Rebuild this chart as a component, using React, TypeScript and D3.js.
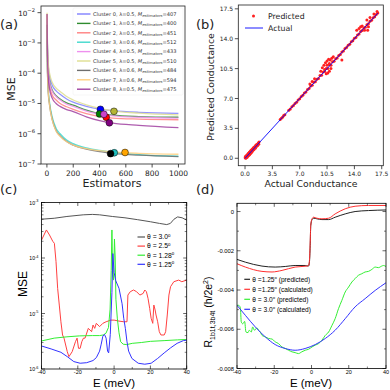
import React from 'react';
import * as d3 from 'd3';

// ---------- panel (a) data ----------
const estGrid = [1, 3, 6, 10, 20, 40, 70, 100, 150, 200, 300, 400, 500, 700, 1000];
const clusterNames = ['Cluster 0', 'Cluster 1', 'Cluster 2', 'Cluster 3', 'Cluster 4', 'Cluster 5', 'Cluster 6', 'Cluster 7', 'Cluster 8'];
const clusterLambda = ['0.5', '0.5', '0.5', '0.6', '0.5', '0.5', '0.6', '0.6', '0.5'];
const clusterBest = [407, 400, 451, 512, 433, 510, 484, 594, 475];
const clusterBestMse = [6.4e-6, 4.5e-6, 3.5e-6, 2.35e-7, 4.4e-6, 5.5e-6, 2.2e-7, 2.4e-7, 2.3e-6];
const clusterLine = ['#8080ff', '#2e8b2e', '#ff8080', '#40d8cc', '#ee90ee', '#dede90', '#6e6e6e', '#ffd080', '#a040a0'];
const clusterDot = ['#0000ff', '#008000', '#ff0000', '#1fbfbf', '#cc44cc', '#b5b535', '#000000', '#ffa500', '#800080'];
const mse0 = [9e-3, 1.5e-3, 4e-4, 1.8e-4, 8e-5, 4e-5, 2.6e-5, 2e-5, 1.4e-5, 1.1e-5, 8e-6, 6.5e-6, 5.8e-6, 5.1e-6, 4.7e-6];
const mse1 = [8e-3, 1.2e-3, 3e-4, 1.3e-4, 5.5e-5, 2.8e-5, 1.8e-5, 1.4e-5, 1.05e-5, 8.8e-6, 6e-6, 4.6e-6, 4.1e-6, 3.7e-6, 3.5e-6];
const mse2 = [7e-3, 8e-4, 2e-4, 9e-5, 3.8e-5, 1.9e-5, 1.3e-5, 1e-5, 7.8e-6, 6.4e-6, 4.6e-6, 3.7e-6, 3.3e-6, 3.05e-6, 2.9e-6];
const mse3 = [6e-3, 3e-4, 8e-5, 3e-5, 1.1e-5, 3.6e-6, 1.5e-6, 1e-6, 6.2e-7, 4.7e-7, 3.4e-7, 2.8e-7, 2.45e-7, 2.05e-7, 1.8e-7];
const mse4 = [8e-3, 1.1e-3, 2.8e-4, 1.2e-4, 5e-5, 2.6e-5, 1.7e-5, 1.3e-5, 9.5e-6, 8e-6, 5.6e-6, 4.5e-6, 3.9e-6, 3.5e-6, 3.3e-6];
const mse5 = [1e-2, 2e-3, 5e-4, 2.2e-4, 1e-4, 5e-5, 3.2e-5, 2.5e-5, 1.7e-5, 1.3e-5, 9e-6, 6.9e-6, 5.7e-6, 4.8e-6, 4.2e-6];
const mse6 = [4e-3, 2e-4, 6e-5, 2.4e-5, 9e-6, 3e-6, 1.25e-6, 8.5e-7, 5.5e-7, 4.2e-7, 3.1e-7, 2.55e-7, 2.25e-7, 1.95e-7, 1.75e-7];
const mse7 = [9e-3, 2.5e-4, 6.5e-5, 2.5e-5, 9e-6, 2.9e-6, 1.2e-6, 8.2e-7, 5.4e-7, 4.2e-7, 3.2e-7, 2.75e-7, 2.5e-7, 2.25e-7, 2.1e-7];
const mse8 = [9e-3, 8e-4, 1.8e-4, 7.5e-5, 3e-5, 1.5e-5, 1e-5, 8e-6, 6.3e-6, 5.4e-6, 3.6e-6, 2.7e-6, 2.25e-6, 1.9e-6, 1.6e-6];
const mseCurves = [mse0, mse1, mse2, mse3, mse4, mse5, mse6, mse7, mse8];
const estTicks = [0, 200, 400, 600, 800, 1000];
const mseExpTicksA = [-2, -3, -4, -5, -6, -7];

// ---------- panel (b) data: [actual, predicted] ----------
const condPairs: [number, number][] = [
  [0.02, 0.05], [0.05, 0.2], [0.1, 0.0], [0.15, 0.3], [0.2, 0.1], [0.25, 0.35], [0.3, 0.15], [0.35, 0.5],
  [0.4, 0.3], [0.45, 0.6], [0.5, 0.35], [0.55, 0.7], [0.6, 0.45], [0.65, 0.8], [0.7, 0.55], [0.75, 0.9],
  [0.8, 0.65], [0.85, 1.0], [0.9, 0.75], [0.95, 1.1], [1.0, 0.9], [1.05, 1.2], [1.1, 1.0], [1.15, 1.3],
  [1.2, 1.1], [1.3, 1.4], [1.35, 1.2], [1.4, 1.55], [1.5, 1.4], [1.55, 1.65], [1.6, 1.5], [1.7, 1.8],
  [1.75, 1.65], [1.8, 1.9],
  [4.5, 4.55], [4.65, 4.7], [4.8, 4.8], [4.95, 5.0], [5.1, 5.1],
  [5.6, 5.62], [5.8, 5.78], [6.0, 6.03], [6.2, 6.18], [6.4, 6.42], [6.6, 6.57], [6.8, 6.83], [7.0, 6.97],
  [7.2, 7.24], [7.4, 7.37], [7.6, 7.63], [7.8, 7.76], [8.0, 8.05], [8.2, 8.16], [8.4, 8.45], [8.6, 8.55],
  [8.8, 8.9], [9.0, 8.95], [9.2, 9.25], [9.4, 9.35], [9.6, 9.7], [9.8, 9.72], [10.0, 10.1], [10.2, 10.15],
  [10.4, 10.5], [10.6, 10.5], [10.8, 10.95], [11.0, 10.9], [11.2, 11.3], [11.4, 11.35], [11.6, 11.65],
  [11.8, 11.75], [12.0, 12.05], [12.2, 12.15], [12.4, 12.45], [12.6, 12.57], [12.8, 12.85], [13.0, 12.96],
  [13.2, 13.25], [13.4, 13.35], [13.6, 13.65], [13.8, 13.76], [14.0, 14.05], [14.2, 14.15], [14.4, 14.45],
  [14.6, 14.56], [14.8, 14.85], [15.0, 14.95], [15.2, 15.25], [15.4, 15.35], [15.6, 15.65], [15.8, 15.76],
  [16.0, 16.05], [16.2, 16.15], [16.4, 16.45], [16.6, 16.58], [16.8, 16.85], [17.0, 17.02],
  [8.3, 8.7], [8.6, 9.0], [8.9, 9.3], [9.7, 10.2], [9.9, 10.6], [10.1, 10.9], [10.3, 11.2], [10.5, 11.4],
  [10.7, 11.6], [10.9, 11.5], [11.1, 11.7], [10.4, 9.9], [10.6, 10.0], [10.8, 10.2], [11.0, 10.5],
  [10.2, 10.4], [10.5, 10.9], [10.8, 11.1], [11.3, 11.9], [12.4, 11.5], [14.3, 15.0], [14.6, 15.2],
  [15.0, 15.5], [15.3, 15.0], [15.6, 16.2], [15.8, 15.4], [16.0, 16.5], [14.8, 15.4], [16.5, 16.9],
  [16.9, 17.2], [15.7, 15.0],
];
const actualRange = [0, 17];
const condTicks = [0, 3.5, 7, 10.5, 14, 17.5];

// ---------- panel (c) data: [E, MSE] ----------
const mseTheta30: [number, number][] = [
  [-40, 5.0e-4], [-33, 5.2e-4], [-26, 5.6e-4], [-17, 6.0e-4], [-12, 6.1e-4], [-8, 6.0e-4], [-1, 5.6e-4],
  [6, 5.3e-4], [13, 4.9e-4], [20, 4.5e-4], [25, 4.2e-4], [29, 4.0e-4], [31, 4.2e-4], [33, 5.0e-4],
  [35, 5.5e-4], [37.5, 5.3e-4], [39, 5.0e-4], [40, 4.8e-4],
];
const mseTheta25: [number, number][] = [
  [-40, 2.1e-4], [-37.3, 3.2e-4], [-35.6, 2.6e-4], [-33.8, 2.0e-4], [-32.9, 1.84e-4], [-32, 8.6e-5],
  [-31.1, 2.84e-5], [-30.2, 1.42e-5], [-29.3, 7.1e-6], [-28.4, 4.1e-6], [-27.6, 3.6e-6], [-25.8, 2.05e-6],
  [-24.9, 1.67e-6], [-23.1, 2.05e-6], [-21.3, 3.1e-6], [-20.4, 3.6e-6], [-19.6, 2.36e-6], [-18.7, 2.36e-6],
  [-17.8, 3.1e-6], [-16.9, 3.6e-6], [-16, 3.6e-6], [-14.2, 5.4e-6], [-12.4, 4.7e-6], [-11.6, 6.2e-6],
  [-10.7, 5.4e-6], [-9.8, 6.65e-6], [-8, 5.8e-6], [-6.2, 6.65e-6], [-4.4, 7.1e-6], [-1.8, 7.6e-6],
  [0, 7.6e-6], [2.7, 7.3e-6], [5.3, 7.1e-6], [7.1, 7.1e-6], [7.6, 2.15e-5], [8.9, 2.47e-5], [10.7, 2.65e-5],
  [12.4, 2.47e-5], [14.2, 2.15e-5], [16, 2.3e-5], [16.9, 2.65e-5], [17.8, 2.47e-5], [18.7, 1.87e-5],
  [19.6, 1.24e-5], [20.4, 8.2e-6], [21.3, 6.65e-6], [21.9, 1.42e-5], [22.6, 1.16e-5], [23.1, 9.4e-6],
  [24, 7.1e-6], [24.9, 4.7e-6], [25.8, 4.1e-6], [27.6, 4.1e-6], [28.4, 4.7e-6], [29.3, 9.4e-6],
  [30.2, 2.15e-5], [31.1, 3.04e-5], [32.9, 3.74e-5], [35.6, 4.0e-5], [37.3, 3.74e-5], [40, 4.0e-5],
];
const mseTheta128: [number, number][] = [
  [-40, 3.2e-6], [-33, 3.6e-6], [-26, 3.8e-6], [-19, 3.95e-6], [-12, 4.0e-6], [-8, 4.0e-6], [-6, 4.1e-6],
  [-4.5, 4.4e-6], [-3.1, 5.6e-6], [-2.2, 1.2e-5], [-1.6, 6e-5], [-1.2, 3.2e-4], [-0.8, 5.0e-5],
  [-0.3, 4.0e-5], [0.2, 2.2e-4], [0.6, 1.0e-4], [1.0, 1.8e-5], [1.8, 8e-6], [2.7, 4.5e-6], [3.6, 3.1e-6],
  [5.0, 2.8e-6], [7, 2.75e-6], [10, 2.9e-6], [15, 3.0e-6], [20, 3.15e-6], [28, 3.25e-6], [35, 3.35e-6],
  [40, 3.4e-6],
];
const mseTheta125: [number, number][] = [
  [-40, 2.6e-6], [-34.7, 2.3e-6], [-29.3, 2.0e-6], [-25.8, 1.67e-6], [-22.2, 1.36e-6], [-18.7, 1.27e-6],
  [-15.1, 1.3e-6], [-11.6, 1.42e-6], [-9.8, 1.6e-6], [-8, 2.1e-6], [-7.1, 2.8e-6], [-6.2, 3.9e-6],
  [-5.3, 4.2e-6], [-4.4, 3.6e-6], [-3.6, 2.1e-6], [-3.0, 1.95e-6], [-2.1, 4.2e-6], [-1.2, 2.4e-5],
  [-0.7, 1.2e-4], [0, 5.5e-5], [0.9, 3.9e-5], [2.7, 2.84e-5], [4.4, 1.5e-5], [5.3, 8.2e-6], [6.2, 5.4e-6],
  [7.1, 3.1e-6], [8, 2.1e-6], [9.8, 1.55e-6], [13.3, 1.27e-6], [16.9, 1.22e-6], [20.4, 1.27e-6],
  [24, 1.55e-6], [27.6, 1.95e-6], [31.1, 2.4e-6], [34.7, 2.9e-6], [38.2, 3.25e-6], [40, 3.3e-6],
];
const mseCurvesC = [mseTheta30, mseTheta25, mseTheta128, mseTheta125];
const thetaLabelsC = ['3.0', '2.5', '1.28', '1.25'];
const thetaColorsC = ['#555555', '#ff4040', '#33ee33', '#3333ff'];
const eTicks = [-40, -20, 0, 20, 40];
const eMinorTicks = [-30, -10, 10, 30];
const mseExpTicksC = [-3, -4, -5, -6];

// ---------- panel (d) data: [E, R in units of 1e-3 h/2e^2] ----------
const rPred125: [number, number][] = [
  [-40, -2.44], [-35.5, -2.58], [-26.6, -2.78], [-19.5, -2.83], [-14.1, -2.8], [-8.8, -2.75],
  [-3.4, -2.75], [-1.6, -2.78], [-1.1, -2.58], [-0.7, -1.73], [-0.4, -0.71], [0.3, -0.41], [1.1, -0.34],
  [2.9, -0.37], [5.6, -0.41], [9.2, -0.41], [12.7, -0.29], [18.1, -0.12], [23.4, 0.0], [30.6, 0.05],
  [40, 0.08],
];
const rCalc125: [number, number][] = [
  [-40, -2.66], [-35.5, -2.83], [-26.6, -3.05], [-21.2, -3.08], [-15.8, -3.0], [-8.8, -2.83],
  [-2.5, -2.78], [-1.6, -2.75], [-1.1, -2.49], [-0.7, -1.56], [-0.4, -0.71], [0.3, -0.37], [1.1, -0.29],
  [2.9, -0.34], [5.6, -0.37], [9.2, -0.34], [12.7, -0.12], [18.1, 0.14], [23.4, 0.27], [30.6, 0.31],
  [40, 0.31],
];
const rPred30: [number, number][] = [
  [-40, -4.78], [-39.1, -4.78], [-38.2, -4.9], [-37.7, -5.63], [-36.9, -5.72], [-35.9, -5.6], [-35.2, -6.14],
  [-34.1, -6.17], [-33.4, -6.05], [-32.3, -6.14], [-31.6, -5.88], [-30.6, -6.05], [-29.3, -5.93],
  [-28.4, -6.05], [-27.5, -6.14], [-26.6, -6.31], [-24.8, -6.39], [-23, -6.47], [-21.2, -6.5],
  [-19.5, -6.64], [-17.7, -6.73], [-15.9, -6.9], [-14.1, -6.98], [-12.3, -7.07], [-10.5, -7.15],
  [-8.8, -7.19], [-7.0, -7.24], [-5.2, -7.15], [-3.4, -7.07], [-1.6, -7.02], [0.3, -6.9], [2.0, -6.81],
  [3.8, -6.73], [5.6, -6.56], [7.4, -6.31], [9.2, -6.14], [11.0, -5.8], [12.7, -5.46], [14.5, -4.95],
  [16.3, -4.53], [18.1, -4.1], [19.9, -3.85], [21.7, -3.59], [23.4, -3.42], [25.2, -3.25], [27.0, -3.17],
  [28.8, -3.08], [30.6, -3.05], [32.4, -2.95], [34.2, -2.83], [35.9, -2.86], [37.7, -2.78], [38.6, -2.75],
  [40, -2.8],
];
const rCalc30: [number, number][] = [
  [-40, -4.78], [-35.5, -5.29], [-30.2, -5.88], [-24.8, -6.39], [-19.5, -6.78], [-14.1, -6.98],
  [-8.8, -7.07], [-3.4, -6.98], [2.0, -6.78], [7.4, -6.47], [12.7, -6.05], [18.1, -5.46], [23.4, -4.86],
  [28.8, -4.44], [34.2, -4.02], [40, -3.63],
];
const rCurves = [rPred125, rCalc125, rPred30, rCalc30];
const rLabels = ['=1.25', '=1.25', '= 3.0', '= 3.0'];
const rKinds = ['(predicted)', '(calculated)', '(predicted)', '(calculated)'];
const rColors = ['#222222', '#ff3030', '#33ee33', '#3333ff'];
const rTicks = [0, -2, -4, -6, -8];
const rMinorTicks = [-1, -3, -5, -7];

const mpl = 'DejaVu Sans, sans-serif';
const grace = 'Liberation Sans, Arial, sans-serif';

function PanelA() {
  const x = d3.scaleLinear().domain([-45, 1050]).range([41, 185]);
  const y = d3.scaleLog().domain([1e-7, Math.pow(10, -1.78)]).range([164, 6]);
  const line = d3.line<number>().x((_, i) => x(estGrid[i])).y((d) => y(d)).curve(d3.curveMonotoneX);
  return (
    <g fontFamily={mpl}>
      <defs>
        <clipPath id="clipA"><rect x={41} y={6} width={144} height={158} /></clipPath>
      </defs>
      <g clipPath="url(#clipA)">
        {mseCurves.map((c, i) => (
          <path key={i} d={line(c) || ''} fill="none" stroke={clusterLine[i]} strokeWidth={1.3} strokeOpacity={0.85} />
        ))}
        {clusterBest.map((b, i) => (
          <circle key={i} cx={x(b)} cy={y(clusterBestMse[i])} r={3.4} fill={clusterDot[i]} stroke="#000" strokeWidth={0.5} />
        ))}
      </g>
      <rect x={41} y={6} width={144} height={158} fill="none" stroke="#222" strokeWidth={0.8} />
      {estTicks.map((t) => (
        <g key={t}>
          <line x1={x(t)} x2={x(t)} y1={164} y2={167.5} stroke="#222" strokeWidth={0.8} />
          <text x={x(t)} y={176} fontSize={7.5} textAnchor="middle" fill="#222">{t}</text>
        </g>
      ))}
      {mseExpTicksA.map((e) => (
        <g key={e}>
          <line x1={37.5} x2={41} y1={y(Math.pow(10, e))} y2={y(Math.pow(10, e))} stroke="#222" strokeWidth={0.8} />
          <text x={35} y={y(Math.pow(10, e)) + 3} fontSize={7.2} textAnchor="end" fill="#222">
            10<tspan dy={-3.3} fontSize={5.2}>{'\u2212' + Math.abs(e)}</tspan>
          </text>
        </g>
      ))}
      <text x={112} y={187} fontSize={11} textAnchor="middle" fill="#222">Estimators</text>
      <text transform="translate(14.5,89) rotate(-90)" fontSize={11} textAnchor="middle" fill="#222">MSE</text>
      <rect x={73} y={8} width={110} height={87} rx={1.5} fill="#fff" fillOpacity={0.8} stroke="#ececec" strokeWidth={0.5} />
      {clusterNames.map((n, i) => {
        const yy = 14 + i * 9.4;
        return (
          <g key={n}>
            <line x1={77} x2={90.5} y1={yy} y2={yy} stroke={clusterLine[i]} strokeWidth={1.4} />
            <text x={93} y={yy + 1.8} fontSize={5.1} fill="#333">
              {n}, λ={clusterLambda[i]}, <tspan fontStyle="italic">M</tspan>
              <tspan dy={1.2} fontSize={3.8} fontStyle="italic">estimators</tspan>
              <tspan dy={-1.2}>={clusterBest[i]}</tspan>
            </text>
          </g>
        );
      })}
    </g>
  );
}

function PanelB() {
  const x = d3.scaleLinear().domain([-0.86, 17.7]).range([238.3, 383.3]);
  const y = d3.scaleLinear().domain([-0.87, 17.95]).range([165.7, 5]);
  return (
    <g fontFamily={mpl}>
      {condPairs.map(([a, p], i) => (
        <circle key={i} cx={x(a)} cy={y(p)} r={1.5} fill="#ff2020" />
      ))}
      <line x1={x(actualRange[0])} y1={y(actualRange[0])} x2={x(actualRange[1])} y2={y(actualRange[1])} stroke="#0000ff" strokeWidth={0.9} />
      <rect x={238.3} y={5} width={145} height={160.7} fill="none" stroke="#222" strokeWidth={0.8} />
      {condTicks.map((t) => (
        <g key={t}>
          <line x1={x(t)} x2={x(t)} y1={165.7} y2={169.2} stroke="#222" strokeWidth={0.8} />
          <text x={x(t)} y={176} fontSize={6} textAnchor="middle" fill="#222">{t.toFixed(1)}</text>
          <line x1={234.8} x2={238.3} y1={y(t)} y2={y(t)} stroke="#222" strokeWidth={0.8} />
          <text x={233} y={y(t) + 2.1} fontSize={6} textAnchor="end" fill="#222">{t.toFixed(1)}</text>
        </g>
      ))}
      <circle cx={253.5} cy={16} r={1.5} fill="#ff2020" />
      <text x={268} y={18.8} fontSize={7.8} fill="#222">Predicted</text>
      <line x1={245} x2={263} y1={28} y2={28} stroke="#0000ff" strokeWidth={0.9} />
      <text x={268} y={30.8} fontSize={7.8} fill="#222">Actual</text>
      <text x={311} y={187} fontSize={9.3} textAnchor="middle" fill="#222">Actual Conductance</text>
      <text transform="translate(214,87) rotate(-90)" fontSize={9.3} textAnchor="middle" fill="#222">Predicted Conductance</text>
    </g>
  );
}

function PanelC() {
  const L = 41.5, R = 186.7, T = 202.5, B = 369;
  const x = d3.scaleLinear().domain([-40, 40]).range([L, R]);
  const y = d3.scaleLog().domain([1e-6, 1e-3]).range([B, T]);
  const line = d3.line<[number, number]>().x((d) => x(d[0])).y((d) => y(d[1]));
  const minors: number[] = [];
  [-6, -5, -4].forEach((e) => [2, 3, 4, 5, 6, 7, 8, 9].forEach((m) => minors.push(m * Math.pow(10, e))));
  return (
    <g fontFamily={grace}>
      <defs>
        <clipPath id="clipC"><rect x={L} y={T} width={R - L} height={B - T} /></clipPath>
      </defs>
      <g clipPath="url(#clipC)">
        {mseCurvesC.map((c, i) => (
          <path key={i} d={line(c) || ''} fill="none" stroke={thetaColorsC[i]} strokeWidth={1} />
        ))}
      </g>
      <rect x={L} y={T} width={R - L} height={B - T} fill="none" stroke="#000" strokeWidth={0.8} />
      {eTicks.map((t) => (
        <g key={t}>
          <line x1={x(t)} x2={x(t)} y1={B} y2={B - 3.5} stroke="#000" strokeWidth={0.6} />
          <line x1={x(t)} x2={x(t)} y1={T} y2={T + 3.5} stroke="#000" strokeWidth={0.6} />
          <text x={x(t)} y={374.2} fontSize={5.5} textAnchor="middle">{t}</text>
        </g>
      ))}
      {eMinorTicks.map((t) => (
        <g key={t}>
          <line x1={x(t)} x2={x(t)} y1={B} y2={B - 2} stroke="#000" strokeWidth={0.5} />
          <line x1={x(t)} x2={x(t)} y1={T} y2={T + 2} stroke="#000" strokeWidth={0.5} />
        </g>
      ))}
      {mseExpTicksC.map((e) => (
        <g key={e}>
          <line x1={L} x2={L + 3.5} y1={y(Math.pow(10, e))} y2={y(Math.pow(10, e))} stroke="#000" strokeWidth={0.6} />
          <line x1={R} x2={R - 3.5} y1={y(Math.pow(10, e))} y2={y(Math.pow(10, e))} stroke="#000" strokeWidth={0.6} />
          <text x={38.5} y={y(Math.pow(10, e)) + 2} fontSize={5.2} textAnchor="end">
            10<tspan dy={-2.5} fontSize={3.8}>{'-' + Math.abs(e)}</tspan>
          </text>
        </g>
      ))}
      {minors.map((m, i) => (
        <g key={i}>
          <line x1={L} x2={L + 2} y1={y(m)} y2={y(m)} stroke="#000" strokeWidth={0.5} />
          <line x1={R} x2={R - 2} y1={y(m)} y2={y(m)} stroke="#000" strokeWidth={0.5} />
        </g>
      ))}
      {thetaLabelsC.map((l, i) => {
        const yy = 237 + i * 9.1;
        return (
          <g key={l}>
            <line x1={137.5} x2={145} y1={yy} y2={yy} stroke={thetaColorsC[i]} strokeWidth={1.2} />
            <text x={147} y={yy + 2.3} fontSize={6.8}>
              θ = {l}<tspan dy={-2.5} fontSize={4.5}>o</tspan>
            </text>
          </g>
        );
      })}
      <text x={114} y={387} fontSize={11.5} textAnchor="middle">E (meV)</text>
      <text transform="translate(27,284) rotate(-90)" fontSize={12} textAnchor="middle">MSE</text>
    </g>
  );
}

function PanelD() {
  const L = 237, R = 386, T = 203.3, B = 368.5;
  const x = d3.scaleLinear().domain([-40, 40]).range([L, R]);
  const y = d3.scaleLinear().domain([-8, 0.42]).range([B, T]);
  const line = d3.line<[number, number]>().x((d) => x(d[0])).y((d) => y(d[1])).curve(d3.curveMonotoneX);
  return (
    <g fontFamily={grace}>
      <defs>
        <clipPath id="clipD"><rect x={L} y={T} width={R - L} height={B - T} /></clipPath>
      </defs>
      <g clipPath="url(#clipD)">
        {rCurves.map((c, i) => (
          <path key={i} d={line(c) || ''} fill="none" stroke={rColors[i]} strokeWidth={1} />
        ))}
      </g>
      <rect x={L} y={T} width={R - L} height={B - T} fill="none" stroke="#000" strokeWidth={0.8} />
      {eTicks.map((t) => (
        <g key={t}>
          <line x1={x(t)} x2={x(t)} y1={B} y2={B - 3.5} stroke="#000" strokeWidth={0.6} />
          <line x1={x(t)} x2={x(t)} y1={T} y2={T + 3.5} stroke="#000" strokeWidth={0.6} />
          <text x={x(t)} y={374.2} fontSize={5.5} textAnchor="middle">{t}</text>
        </g>
      ))}
      {eMinorTicks.map((t) => (
        <g key={t}>
          <line x1={x(t)} x2={x(t)} y1={B} y2={B - 2} stroke="#000" strokeWidth={0.5} />
          <line x1={x(t)} x2={x(t)} y1={T} y2={T + 2} stroke="#000" strokeWidth={0.5} />
        </g>
      ))}
      {rTicks.map((t) => (
        <g key={t}>
          <line x1={L} x2={L + 3.5} y1={y(t)} y2={y(t)} stroke="#000" strokeWidth={0.6} />
          <line x1={R} x2={R - 3.5} y1={y(t)} y2={y(t)} stroke="#000" strokeWidth={0.6} />
          <text x={234} y={y(t) + 2} fontSize={5.8} textAnchor="end">{t === 0 ? '0' : (t / 1000).toFixed(3)}</text>
        </g>
      ))}
      {rMinorTicks.map((t) => (
        <g key={t}>
          <line x1={L} x2={L + 2} y1={y(t)} y2={y(t)} stroke="#000" strokeWidth={0.5} />
          <line x1={R} x2={R - 2} y1={y(t)} y2={y(t)} stroke="#000" strokeWidth={0.5} />
        </g>
      ))}
      {rLabels.map((l, i) => {
        const yy = 279.3 + i * 10;
        return (
          <g key={i}>
            <line x1={244.3} x2={250} y1={yy} y2={yy} stroke={rColors[i]} strokeWidth={1.2} />
            <text x={252.3} y={yy + 2.3} fontSize={6.6}>
              θ {l}<tspan dy={-2.5} fontSize={4.3}>o</tspan>
              <tspan dy={2.5}> {rKinds[i]}</tspan>
            </text>
          </g>
        );
      })}
      <text x={311} y={387} fontSize={11.5} textAnchor="middle">E (meV)</text>
      <text transform="translate(212,312) rotate(-90)" fontSize={10.5} textAnchor="middle">
        R<tspan dy={2.5} fontSize={7}>1b1t,3b4t</tspan>
        <tspan dy={-2.5}> (h/2e</tspan>
        <tspan dy={-4} fontSize={7}>2</tspan>
        <tspan dy={4}>)</tspan>
      </text>
    </g>
  );
}

export default function App() {
  return (
    <svg width={390} height={390} style={{ position: 'absolute', left: 0, top: 0, background: '#fff' }}>
      <rect width={390} height={390} fill="#fff" />
      <PanelA />
      <PanelB />
      <PanelC />
      <PanelD />
      <text x={0} y={29} fontSize={13} fontFamily={mpl} fill="#222">(a)</text>
      <text x={196} y={29} fontSize={13} fontFamily={mpl} fill="#222">(b)</text>
      <text x={0} y={194} fontSize={13} fontFamily={mpl} fill="#222">(c)</text>
      <text x={196} y={194} fontSize={13} fontFamily={mpl} fill="#222">(d)</text>
    </svg>
  );
}
